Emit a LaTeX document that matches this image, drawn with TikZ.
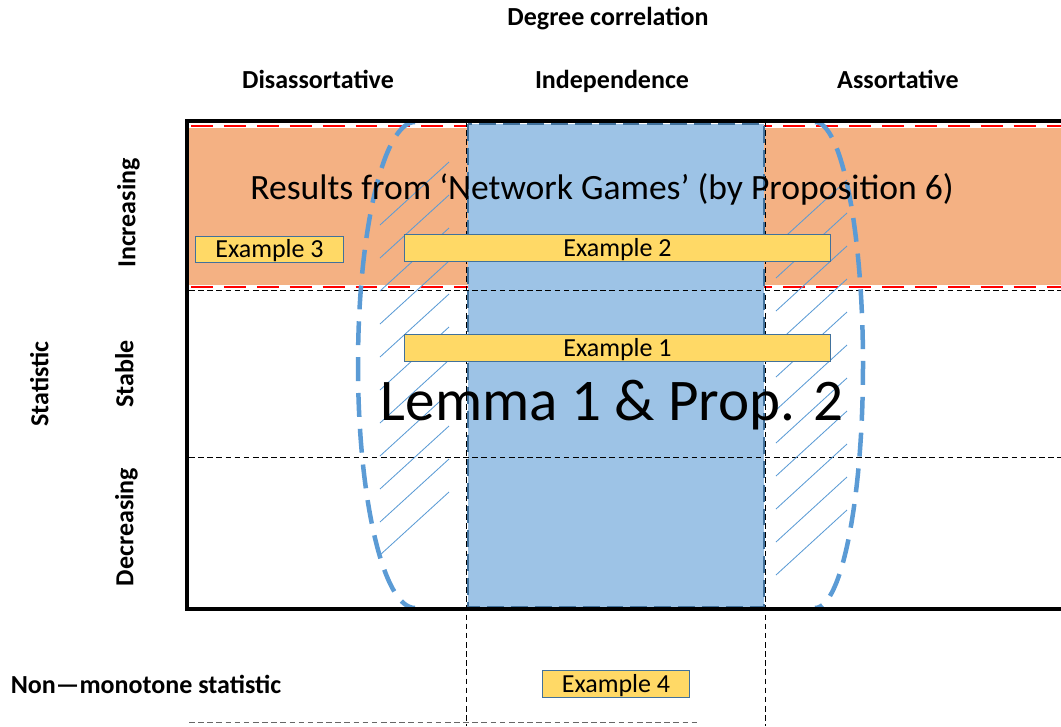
\documentclass[tikz,border=0pt]{standalone}
\usepackage{fontspec}
\setmainfont{Carlito}
\usepackage{tikz}
\definecolor{bandorange}{RGB}{244,177,131}
\definecolor{indepblue}{RGB}{157,195,230}
\definecolor{rimblue}{RGB}{65,113,156}
\definecolor{lemmablue}{RGB}{91,155,213}
\definecolor{boxyellow}{RGB}{255,217,102}
\definecolor{bandred}{RGB}{255,0,0}

\begin{document}
\begin{tikzpicture}[
    x=0.025cm, y=-0.025cm,
    capbox/.style={inner sep=0pt, text height=#1, text depth=0pt},
    capbox/.default=11.9pt,
    header/.style={
        capbox,
        font=\fontsize{18.5}{20}\selectfont\bfseries
    },
    example/.style={
        rectangle,
        capbox,
        fill=boxyellow,
        draw=rimblue,
        line width=0.7pt,
        minimum height=0.66cm,
        font=\fontsize{18.5}{20}\selectfont
    },
    gridline/.style={line width=0.5pt, dash pattern=on 4pt off 2.5pt},
    hatch/.style={lemmablue, line width=0.6pt},
    lemmarim/.style={lemmablue, line width=3.2pt, dash pattern=on 17pt off 8.5pt}
]
    \useasboundingbox (0,0) rectangle (1061,726);

    % Increasing row
    \fill[bandorange] (189,124) rectangle (1061,287);
    \foreach \y in {126,287} {
        \draw[white, line width=2.4pt] (189,\y) -- (1061,\y);
        \draw[bandred, line width=2.1pt, dash pattern=on 15.6pt off 7.8pt] (191,\y) -- (1061,\y);
    }

    % Independence column
    \fill[indepblue] (468,124) rectangle (764,607);
    \draw[rimblue, line width=2pt, dash pattern=on 12pt off 5pt] (468,124) rectangle (764,607);

    % Grid
    \draw[gridline] (189,290) -- (1061,290);
    \draw[gridline] (189,457) -- (1061,457);
    \draw[gridline] (466,121) -- (466,726);
    \draw[gridline] (765,121) -- (765,726);
    \draw[gridline, black!60] (189,722) -- (700,722);

    % Hatching on both sides of the column
    \foreach \k in {0,...,10} {
        \draw[hatch] (380,{225+33*\k}) -- ++(69,-63);
        \draw[hatch] (776,{245+33*\k}) -- ++(71,-65);
    }

    % Lemma region
    \draw[lemmarim] (415,122) arc[start angle=270, end angle=90, x radius=57, y radius=243];
    \draw[lemmarim] (815,122) arc[start angle=-90, end angle=90, x radius=48, y radius=243];

    % Frame
    \draw[line width=2.8pt] (187,121) rectangle (1063,609);

    % Examples
    \node[example, minimum width=3.675cm] (ex3) at (269.5,249.5) {Example 3};
    \node[example, minimum width=10.625cm] (ex2) at (617.5,248) {Example 2};
    \node[example, minimum width=10.625cm] (ex1) at (617.5,348) {Example 1};
    \node[example, minimum width=3.65cm] (ex4) at (616,684) {Example 4};

    % Results
    \node[capbox=16.3pt, font=\fontsize{25.3}{28}\selectfont] (netgames) at (602,188.5) {Results from ‘Network Games’ (by Proposition 6)};
    \node[capbox=27pt, font=\fontsize{42}{46}\selectfont] (lemma) at (612,402) {Lemma 1 \& Prop. 2};

    % Labels
    \node[header] (degcorr) at (608,17.5) {Degree correlation};
    \node[header] (disass) at (318,80.5) {Disassortative};
    \node[header] (indep) at (612,80.5) {Independence};
    \node[header] (assort) at (898,80.5) {Assortative};
    \node[header, rotate=90] (incr) at (127,213) {Increasing};
    \node[header, rotate=90] (stable) at (125,374) {Stable};
    \node[header, rotate=90] (decr) at (125,527) {Decreasing};
    \node[header, rotate=90] (stat) at (40,384) {Statistic};
    \node[header] (nonmono) at (146,685) {Non—monotone statistic};
\end{tikzpicture}
\end{document}
